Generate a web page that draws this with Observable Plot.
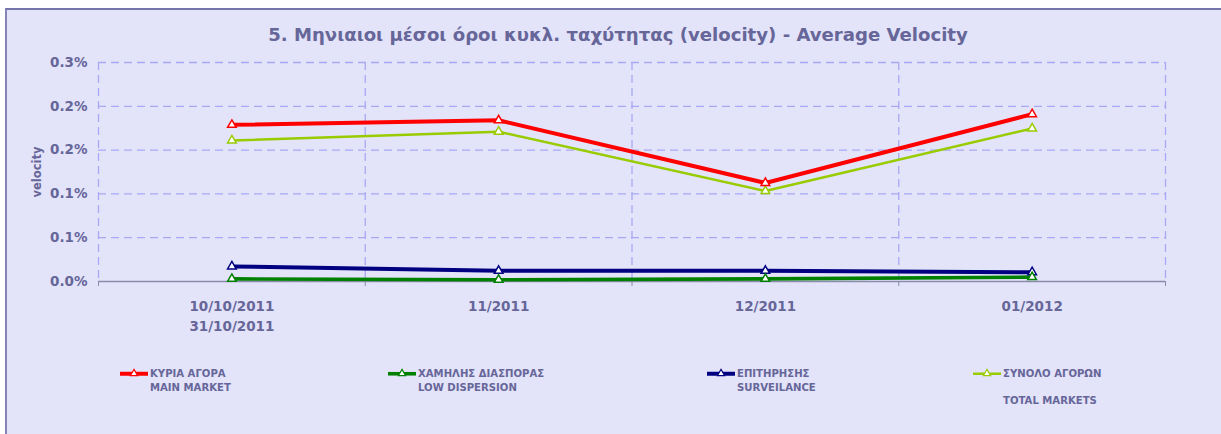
<!DOCTYPE html>
<html>
<head>
<meta charset="utf-8">
<script src="https://cdn.jsdelivr.net/npm/d3@7"></script>
<script src="https://cdn.jsdelivr.net/npm/@observablehq/plot@0.6"></script>
<style>
  html, body { margin: 0; padding: 0; background: #ffffff; }
  body { width: 1221px; height: 434px; position: relative; overflow: hidden; font-family: "DejaVu Sans", Verdana, sans-serif; }
  #bg { position: absolute; left: 5px; top: 8px; right: 0; bottom: 0; background: #e3e3f9; border-left: 2px solid #8484b8; border-top: 2px solid #7474a8; }
  #title { position: absolute; left: 0; width: 1236px; top: 25px; text-align: center; font-weight: bold; font-size: 18.1px; line-height: 20px; color: #666699; white-space: nowrap; }
  #chart { position: absolute; left: 0; top: 0; }
  .leg { position: absolute; font-weight: bold; font-size: 10.1px; line-height: 13.5px; color: #666699; white-space: pre; }
  .leg svg { position: absolute; left: -30px; top: 0; overflow: visible; }
</style>
</head>
<body>
<div id="bg"></div>
<div id="title"></div>
<div id="chart"></div>
<div id="legend"></div>
<script>
// ---- data ----
const titleText = "5. Μηνιαιοι μέσοι όροι κυκλ. ταχύτητας (velocity) - Average Velocity";
const yAxisTitle = "velocity";
const categories = ["10/10/2011\n31/10/2011", "11/2011", "12/2011", "01/2012"];
const seriesNames = [
  "ΚΥΡΙΑ ΑΓΟΡΑ\nMAIN MARKET",
  "ΧΑΜΗΛΗΣ ΔΙΑΣΠΟΡΑΣ\nLOW DISPERSION",
  "ΕΠΙΤΗΡΗΣΗΣ\nSURVEILANCE",
  "ΣΥΝΟΛΟ ΑΓΟΡΩΝ\n\nTOTAL MARKETS"
];
// values in percent
const mainMarket     = [0.1788, 0.1840, 0.1125, 0.1910];
const lowDispersion  = [0.0030, 0.0020, 0.0030, 0.0050];
const surveillance   = [0.0172, 0.0122, 0.0122, 0.0106];
const totalMarkets   = [0.1610, 0.1710, 0.1033, 0.1747];
const yTicks  = [0, 0.05, 0.10, 0.15, 0.20, 0.25];
const yLabels = ["0.0%", "0.1%", "0.1%", "0.2%", "0.2%", "0.3%"];

// ---- styles ----
const seriesValues = [mainMarket, lowDispersion, surveillance, totalMarkets];
const seriesColors = ["#ff0000", "#008000", "#000080", "#99cc00"];
const seriesWidths = [4, 3.6, 4, 2.5];
const drawOrder = [3, 0, 2, 1];
const legendLeft = [150, 418, 737, 1003];
const textColor = "#666699";
const gridColor = "#a8a8f4";

document.getElementById("title").textContent = titleText;

const boundaries = d3.range(categories.length + 1);
const catPos = categories.map((c, i) => i + 0.5);

const lineMarks = [];
for (const s of drawOrder) {
  const rows = seriesValues[s].map((v, i) => ({x: catPos[i], v}));
  lineMarks.push(Plot.line(rows, {x: "x", y: "v", stroke: seriesColors[s], strokeWidth: seriesWidths[s], strokeLinejoin: "miter"}));
}
for (const s of drawOrder) {
  const rows = seriesValues[s].map((v, i) => ({x: catPos[i], v}));
  lineMarks.push(Plot.dot(rows, {x: "x", y: "v", symbol: "triangle", r: 3.2, stroke: seriesColors[s], strokeWidth: 1.5, fill: "#ffffff"}));
}

const chart = Plot.plot({
  width: 1221,
  height: 340,
  marginLeft: 98,
  marginRight: 56,
  marginTop: 62,
  marginBottom: 59,
  style: {background: "transparent", color: textColor, fontFamily: "DejaVu Sans, Verdana, sans-serif", fontWeight: "bold", fontSize: "13.5px", overflow: "visible"},
  x: {domain: [0, categories.length], axis: null},
  y: {domain: [0, 0.25], axis: null},
  marks: [
    Plot.ruleY(yTicks.slice(1), {stroke: gridColor, strokeWidth: 1.3, strokeDasharray: "8,5"}),
    Plot.ruleX(boundaries, {stroke: gridColor, strokeWidth: 1.3, strokeDasharray: "8,5"}),
    Plot.ruleY([0], {stroke: "#8a8aac", strokeWidth: 1.5}),
    Plot.axisX({ticks: boundaries, tickSize: 5, tickFormat: () => "", stroke: "#8a8aac", label: null}),
    Plot.axisY({ticks: yTicks, tickSize: 0, tickPadding: 11, tickFormat: d => yLabels[yTicks.indexOf(d)], fontSize: 13.5, label: null}),
    Plot.text(categories, {x: (d, i) => catPos[i], text: d => d, frameAnchor: "bottom", lineAnchor: "top", dy: 16, lineHeight: 1.45, fontSize: 13.5, fill: textColor}),
    Plot.text([yAxisTitle], {frameAnchor: "left", textAnchor: "middle", rotate: -90, dx: -61, fontSize: 11.5, fill: textColor}),
    ...lineMarks
  ]
});
document.getElementById("chart").appendChild(chart);

// ---- legend ----
const legend = d3.select("#legend");
seriesNames.forEach((name, i) => {
  const item = legend.append("div").attr("class", "leg")
    .style("left", legendLeft[i] + "px")
    .style("top", (374 - 6.75) + "px")
    .text(name);
  const svg = item.append("svg").attr("width", 28).attr("height", 13.5);
  svg.append("line").attr("x1", 0).attr("x2", 28).attr("y1", 6.75).attr("y2", 6.75)
    .attr("stroke", seriesColors[i]).attr("stroke-width", seriesWidths[i]);
  svg.append("path").attr("d", d3.symbol(d3.symbolTriangle, 22)())
    .attr("transform", "translate(14,6.5)")
    .attr("fill", "#ffffff").attr("stroke", seriesColors[i]).attr("stroke-width", 1.2);
});
</script>
</body>
</html>
